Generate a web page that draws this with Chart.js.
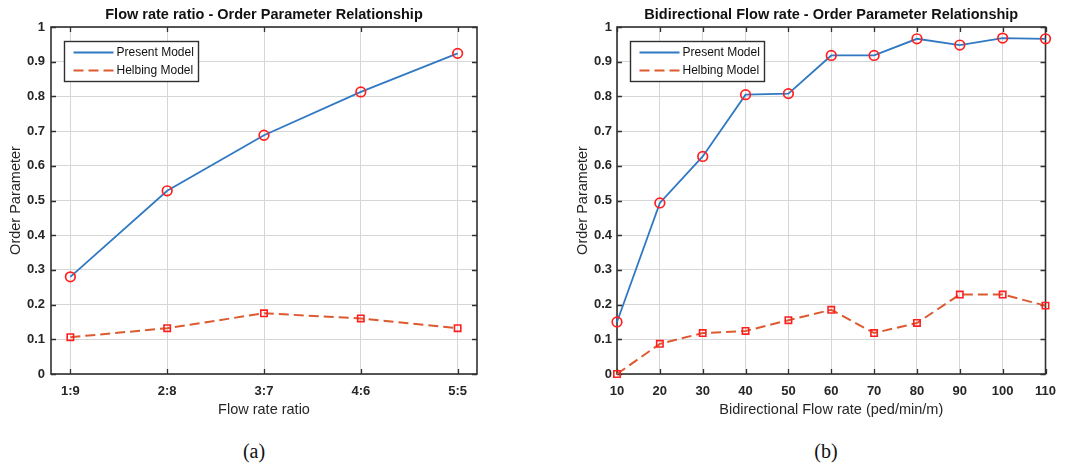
<!DOCTYPE html>
<html>
<head>
<meta charset="utf-8">
<script src="https://cdn.jsdelivr.net/npm/chart.js@4.4.1/dist/chart.umd.min.js"></script>
<style>
    body { margin: 0; background: #fff; width: 1066px; height: 465px; overflow: hidden; position: relative; }
    .panel { position: absolute; top: 0; width: 533px; height: 430px; }
    .cap { position: absolute; top: 440px; width: 60px; text-align: center; font-family: "Liberation Serif", "Times New Roman", serif; font-size: 20px; color: #111; }
</style>
</head>
<body>
<div class="panel" style="left:0"><canvas id="chart-a"></canvas></div>
<div class="panel" style="left:533px"><canvas id="chart-b"></canvas></div>
<div class="cap" style="left:224px">(a)</div>
<div class="cap" style="left:796px">(b)</div>
<script>
// (a) 流量比 - 序參數
const ratioLabels = ['1:9', '2:8', '3:7', '4:6', '5:5'];
const ratioPresent = [0.280, 0.528, 0.688, 0.813, 0.924];
const ratioHelbing = [0.106, 0.132, 0.175, 0.160, 0.132];

// (b) 雙向流量 - 序參數
const flowRates = [10, 20, 30, 40, 50, 60, 70, 80, 90, 100, 110];
const flowPresent = [0.150, 0.493, 0.627, 0.805, 0.808, 0.918, 0.918, 0.966, 0.948, 0.968, 0.966];
const flowHelbing = [0.000, 0.087, 0.118, 0.124, 0.155, 0.185, 0.118, 0.147, 0.229, 0.229, 0.197];

const FONT = 'Arial, "Liberation Sans", Helvetica, sans-serif';
const TEXT_COLOR = '#262626';
const GRID_COLOR = '#d6d6d6';
const AXIS_COLOR = '#303030';

Chart.defaults.font.family = FONT;
Chart.defaults.color = TEXT_COLOR;

/**
 * 外框與向內刻度 (MATLAB box on)
 */
const axesBox = {
    id: 'axesBox',
    beforeDatasetsDraw(chart) {
        const { ctx, chartArea: a, scales } = chart;
        const len = 5;
        ctx.save();
        ctx.strokeStyle = AXIS_COLOR;
        ctx.lineWidth = 1.6;
        ctx.strokeRect(a.left, a.top, a.right - a.left, a.bottom - a.top);
        ctx.lineWidth = 1.3;
        ctx.beginPath();
        scales.x.ticks.forEach(t => {
            const px = Math.round(scales.x.getPixelForValue(t.value)) + 0.5;
            ctx.moveTo(px, a.bottom); ctx.lineTo(px, a.bottom - len);
            ctx.moveTo(px, a.top); ctx.lineTo(px, a.top + len);
        });
        scales.y.ticks.forEach(t => {
            const py = Math.round(scales.y.getPixelForValue(t.value)) + 0.5;
            ctx.moveTo(a.left, py); ctx.lineTo(a.left + len, py);
            ctx.moveTo(a.right, py); ctx.lineTo(a.right - len, py);
        });
        ctx.stroke();
        ctx.restore();
    }
};

/**
 * 標題置中於繪圖區上方
 */
const panelTitle = {
    id: 'panelTitle',
    afterDraw(chart, args, opts) {
        const { ctx, chartArea: a } = chart;
        ctx.save();
        ctx.font = 'bold 14.5px ' + FONT;
        ctx.fillStyle = '#111';
        ctx.textAlign = 'center';
        ctx.textBaseline = 'middle';
        ctx.fillText(opts.text, (a.left + a.right) / 2, 15);
        ctx.restore();
    }
};

/**
 * 繪圖區左上角的框線圖例
 */
const boxLegend = {
    id: 'boxLegend',
    afterDraw(chart) {
        const { ctx, chartArea: a } = chart;
        const x = Math.round(a.left + 13) + 0.5;
        const y = Math.round(a.top + 14) + 0.5;
        const w = 134, h = 40;
        ctx.save();
        ctx.fillStyle = '#fff';
        ctx.fillRect(x, y, w, h);
        ctx.strokeStyle = AXIS_COLOR;
        ctx.lineWidth = 1.4;
        ctx.strokeRect(x, y, w, h);
        ctx.font = '12px ' + FONT;
        ctx.textAlign = 'left';
        ctx.textBaseline = 'middle';
        chart.data.datasets.forEach((ds, i) => {
            const ly = y + 11 + i * 18;
            ctx.strokeStyle = ds.borderColor;
            ctx.lineWidth = ds.borderWidth;
            ctx.setLineDash(ds.borderDash || []);
            ctx.beginPath();
            ctx.moveTo(x + 9, ly);
            ctx.lineTo(x + 49, ly);
            ctx.stroke();
            ctx.setLineDash([]);
            ctx.fillStyle = '#111';
            ctx.fillText(ds.label, x + 52, ly);
        });
        ctx.restore();
    }
};

function presentSet(data) {
    return {
        label: 'Present Model',
        data: data,
        borderColor: '#3079c2',
        borderWidth: 1.8,
        pointStyle: 'circle',
        pointRadius: 4.8,
        pointBorderColor: '#ff1f1f',
        pointBorderWidth: 1.7,
        pointBackgroundColor: 'rgba(0,0,0,0)',
        clip: false
    };
}

function helbingSet(data) {
    return {
        label: 'Helbing Model',
        data: data,
        borderColor: '#dd5a30',
        borderWidth: 2,
        borderDash: [10, 5],
        pointStyle: 'rect',
        pointRadius: 4.5,
        pointBorderColor: '#ff1f1f',
        pointBorderWidth: 1.6,
        pointBackgroundColor: 'rgba(0,0,0,0)',
        clip: false
    };
}

const tickFont = { size: 13, weight: 'bold' };

function yScale(width, titlePad, tickPad) {
    return {
        min: 0,
        max: 1,
        afterFit: s => { s.width = width; },
        grid: { color: GRID_COLOR, drawTicks: false },
        border: { display: false },
        ticks: {
            stepSize: 0.1,
            padding: tickPad,
            color: TEXT_COLOR,
            font: tickFont,
            callback: v => String(+v.toFixed(1))
        },
        title: { display: true, text: 'Order Parameter', color: TEXT_COLOR, font: { size: 14.5 }, padding: { top: titlePad, bottom: 0 } }
    };
}

function xTitle(text) {
    return { display: true, text: text, color: TEXT_COLOR, font: { size: 14.5 }, padding: { top: 0, bottom: 11 } };
}

const baseOptions = {
    responsive: true,
    maintainAspectRatio: false,
    animation: false,
    plugins: { legend: { display: false }, tooltip: { enabled: false } }
};

// 圖 (a)
new Chart(document.getElementById('chart-a'), {
    type: 'line',
    data: {
        datasets: [
            presentSet(ratioPresent.map((v, i) => ({ x: i + 1, y: v }))),
            helbingSet(ratioHelbing.map((v, i) => ({ x: i + 1, y: v })))
        ]
    },
    options: {
        ...baseOptions,
        layout: { padding: { left: 0, right: 56, top: 27, bottom: 0 } },
        plugins: { ...baseOptions.plugins, panelTitle: { text: 'Flow rate ratio - Order Parameter Relationship' } },
        scales: {
            x: {
                type: 'linear',
                min: 0.8,
                max: 5.2,
                afterBuildTicks: s => { s.ticks = ratioLabels.map((l, i) => ({ value: i + 1 })); },
                afterFit: s => { s.height = 56; },
                grid: { color: GRID_COLOR, drawTicks: false },
                border: { display: false },
                ticks: { padding: 10, color: TEXT_COLOR, font: tickFont, callback: v => ratioLabels[Math.round(v) - 1] },
                title: xTitle('Flow rate ratio')
            },
            y: yScale(51, 7, 6)
        }
    },
    plugins: [axesBox, panelTitle, boxLegend]
});

// 圖 (b)
new Chart(document.getElementById('chart-b'), {
    type: 'line',
    data: {
        datasets: [
            presentSet(flowPresent.map((v, i) => ({ x: flowRates[i], y: v }))),
            helbingSet(flowHelbing.map((v, i) => ({ x: flowRates[i], y: v })))
        ]
    },
    options: {
        ...baseOptions,
        layout: { padding: { left: 34, right: 13, top: 27, bottom: 0 } },
        plugins: { ...baseOptions.plugins, panelTitle: { text: 'Bidirectional Flow rate - Order Parameter Relationship' } },
        scales: {
            x: {
                type: 'linear',
                min: 10,
                max: 110,
                afterFit: s => { s.height = 56; },
                grid: { color: GRID_COLOR, drawTicks: false },
                border: { display: false },
                ticks: { stepSize: 10, padding: 10, color: TEXT_COLOR, font: tickFont },
                title: xTitle('Bidirectional Flow rate (ped/min/m)')
            },
            y: yScale(50, 7, 5)
        }
    },
    plugins: [axesBox, panelTitle, boxLegend]
});
</script>
</body>
</html>
